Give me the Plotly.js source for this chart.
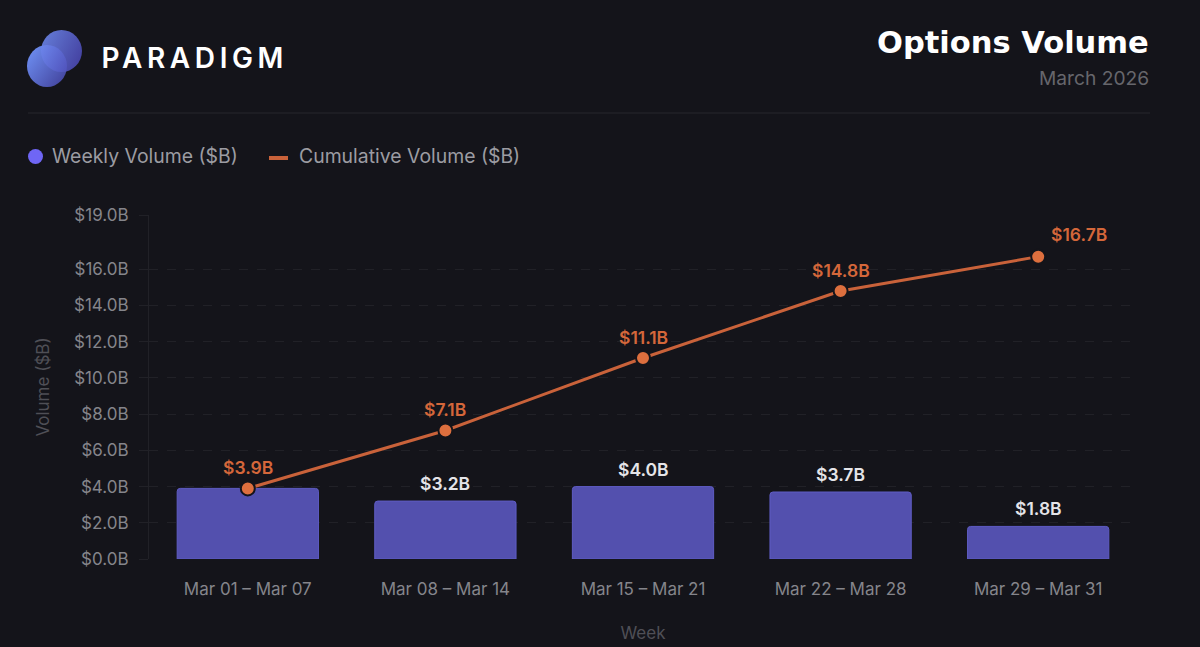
<!DOCTYPE html>
<html><head><meta charset="utf-8">
<script src="https://cdn.plot.ly/plotly-3.0.1.min.js"></script>
<style>html,body{margin:0;padding:0;background:#14141a;overflow:hidden}#c{width:1200px;height:647px}</style>
</head><body><div id="c"></div>
<script>
const categories=["Mar 01 – Mar 07","Mar 08 – Mar 14","Mar 15 – Mar 21","Mar 22 – Mar 28","Mar 29 – Mar 31"];
const weeklyVolume=[3.9,3.2,4.0,3.7,1.8];
const cumulativeVolume=[3.9,7.1,11.1,14.8,16.7];
const yTicks=[0,2,4,6,8,10,12,14,16,19];
const weeklyLabels=["","$3.2B","$4.0B","$3.7B","$1.8B"];
const cumulativeLabels=["$3.9B","$7.1B","$11.1B","$14.8B","$16.7B"];
const F="Inter, 'Noto Sans', sans-serif";
const W=1200,H=647,L=149,R=1137,T=215,B=559;
const px=x=>(x-L)/(R-L), py=y=>(B-y)/(B-T);
const logo="data:image/svg+xml;base64,"+btoa(`<svg xmlns="http://www.w3.org/2000/svg" width="60" height="60" viewBox="0 0 60 60"><defs><linearGradient id="a" x1="0" y1="0.2" x2="1" y2="1"><stop offset="0" stop-color="#6d8df0"/><stop offset="1" stop-color="#3f3d96"/></linearGradient><linearGradient id="b" x1="0" y1="0.2" x2="1" y2="0.7"><stop offset="0" stop-color="#6f8af0"/><stop offset="1" stop-color="#4b48b4"/></linearGradient></defs><ellipse cx="23" cy="37" rx="20" ry="21" fill="url(#a)"/><ellipse cx="37.5" cy="22" rx="20.5" ry="21" fill="url(#b)" fill-opacity="0.88"/></svg>`);
const ann=(x,y,text,size,color,xanchor,extra)=>Object.assign({xref:'paper',yref:'paper',x:px(x),y:py(y),text,showarrow:false,xanchor,yanchor:'middle',font:{family:F,size,color}},extra||{});
const traces=[
{type:'bar',x:categories,y:weeklyVolume,width:0.715,
 marker:{color:'#5350ae',line:{color:'#5f5cc4',width:1}},hoverinfo:'skip'},
{type:'scatter',mode:'lines+markers',x:categories,y:cumulativeVolume,cliponaxis:false,
 line:{color:'#c9623a',width:3},
 marker:{size:14,color:'#dd6f3e',line:{color:'#14141a',width:2}},hoverinfo:'skip'}
];
const barLabels=categories.map((c,i)=>({x:c,y:weeklyVolume[i],xref:'x',yref:'y',text:weeklyLabels[i],showarrow:false,yanchor:'bottom',yshift:5,
 font:{family:F,size:17.5,color:'#e4e4e8',weight:600}})).filter(a=>a.text);
const lastIdx=cumulativeLabels.length-1;
const lineLabels=categories.map((c,i)=>({x:c,y:cumulativeVolume[i],xref:'x',yref:'y',text:cumulativeLabels[i],showarrow:false,yanchor:'middle',
 yshift:i===lastIdx?22:21,xshift:i===lastIdx?40.5:0,
 font:{family:F,size:17.5,color:'#d4673a',weight:600}}));
const layout={width:W,height:H,paper_bgcolor:'#14141a',plot_bgcolor:'#14141a',showlegend:false,barcornerradius:3,
 margin:{l:L,r:W-R,t:T,b:H-B,pad:0},
 font:{family:F},
 xaxis:{type:'category',categoryorder:'array',categoryarray:categories,ticks:'',showgrid:false,zeroline:false,showline:false,
  tickfont:{family:F,size:17,color:'#85858b'},ticklabelstandoff:18,
  title:{text:'Week',font:{family:F,size:17,color:'#4f4f56'},standoff:29}},
 yaxis:{range:[0,19],tickvals:yTicks,ticktext:yTicks.map(v=>'$'+v.toFixed(1)+'B'),
  ticks:'outside',ticklen:9,tickcolor:'#212127',tickwidth:1,showline:true,linecolor:'#212127',linewidth:1,
  gridcolor:'#212127',griddash:'dash',gridwidth:1,zeroline:false,
  tickfont:{family:F,size:17,color:'#85858b'},ticklabelstandoff:7,
  title:{text:'Volume ($B)',font:{family:F,size:17,color:'#4f4f56'},standoff:20}},
 images:[{source:logo,xref:'paper',yref:'paper',x:px(24),y:py(29),sizex:60/(R-L),sizey:60/(B-T),xanchor:'left',yanchor:'top',sizing:'stretch',layer:'above'}],
 shapes:[
  {type:'line',xref:'paper',yref:'paper',x0:px(28),x1:px(1150),y0:py(113),y1:py(113),line:{color:'#26262c',width:1}},
  {type:'circle',xref:'paper',yref:'paper',x0:px(28),x1:px(43),y0:py(149),y1:py(164),fillcolor:'#6f66f5',line:{width:0}},
  {type:'line',xref:'paper',yref:'paper',x0:px(269),x1:px(288),y0:py(158),y1:py(158),line:{color:'#c9623a',width:4}}
 ],
 annotations:[
  ann(118,58,'PARADIGM',28,'#ffffff','left',{font:{family:F,size:28,color:'#ffffff',weight:600}}),
  ann(1151,42,'Options Volume',30.5,'#ffffff','right',{font:{family:"'DejaVu Sans', sans-serif",size:30.5,color:'#ffffff',weight:700}}),
  ann(1151,78,'March 2026',19.2,'#66666c','right'),
  ann(50,156,'Weekly Volume ($B)',19.4,'#9c9ca2','left'),
  ann(297,156,'Cumulative Volume ($B)',19.4,'#9c9ca2','left')
 ].concat(barLabels,lineLabels)};
Plotly.newPlot('c',traces,layout,{displayModeBar:false,staticPlot:true}).then(()=>{
 document.querySelectorAll('.annotation-text').forEach(t=>{if(t.textContent==='PARADIGM')t.style.letterSpacing='4.6px';});
});
</script></body></html>
